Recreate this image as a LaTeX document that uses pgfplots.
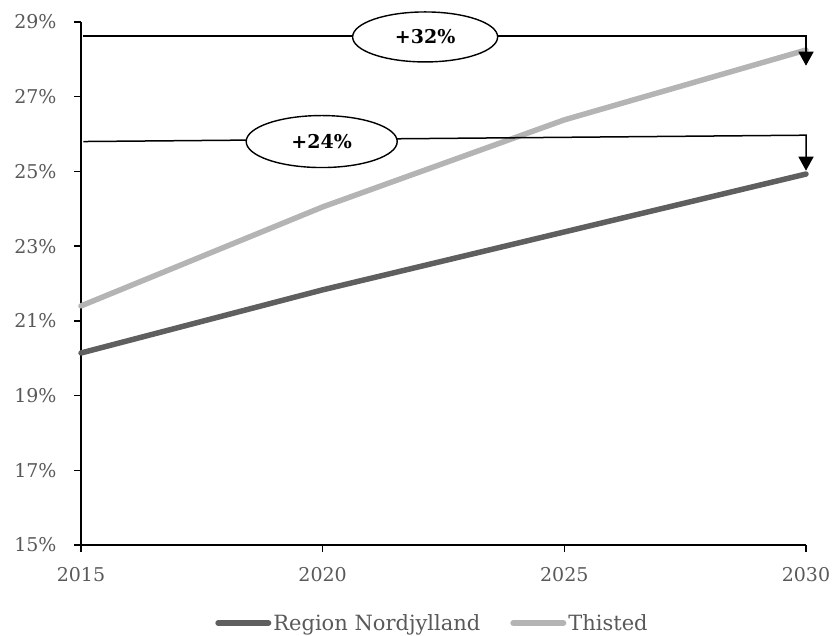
\documentclass[border=0pt]{standalone}
\usepackage{pgfplots}
\pgfplotsset{compat=1.18}
\usepackage{fontspec}
\setmainfont{DejaVu Serif}
\usetikzlibrary{shapes.geometric,arrows.meta}
\definecolor{darkline}{HTML}{5F5F5F}
\definecolor{lightline}{HTML}{B4B4B4}
\definecolor{ticktext}{HTML}{595959}
\begin{document}
\begin{tikzpicture}
\begin{axis}[
  at={(0,0)}, anchor=south west,
  scale only axis, width=725pt, height=523pt,
  xmin=2015, xmax=2030, ymin=15, ymax=29,
  axis x line*=bottom, axis y line*=left,
  axis line style={line width=1.3pt, -},
  xtick={2015,2020,2025,2030},
  xticklabels={2015,2020,2025,2030},
  ytick={15,17,19,21,23,25,27,29},
  yticklabels={15\%,17\%,19\%,21\%,23\%,25\%,27\%,29\%},
  tick align=outside, major tick length=7pt,
  tick style={line width=1.3pt, black},
  xticklabel style={font=\fontsize{19}{22}\selectfont, text=ticktext, yshift=-12pt},
  yticklabel style={font=\fontsize{19}{22}\selectfont, text=ticktext, xshift=-14pt},
  clip=false,
  legend columns=2,
  legend cell align=left,
  legend style={draw=none, fill=none, at={(351.5pt,-78pt)}, anchor=center,
    font=\fontsize{21}{24}\selectfont, text=ticktext,
    nodes={inner xsep=2pt},
    /tikz/every even column/.append style={column sep=28pt}},
  legend image code/.code={\draw[#1, line width=6pt, line cap=round] (3pt,0pt) -- (53pt,0pt);},
]
\addplot[darkline, line width=5.5pt, line cap=round] coordinates {(2015,20.14) (2020,21.83) (2025,23.38) (2030,24.93)};
\addlegendentry{Region Nordjylland}
\addplot[lightline, line width=5.5pt, line cap=round] coordinates {(2015,21.40) (2020,24.05) (2025,26.38) (2030,28.25)};
\addlegendentry{Thisted}

\draw[line width=1.5pt, -{Triangle[width=15pt,length=14pt]}] (axis cs:2015.05,28.62) -- (axis cs:2030,28.62) -- (axis cs:2030,27.83);
\draw[line width=1.5pt, -{Triangle[width=15pt,length=14pt]}] (axis cs:2015.05,25.80) -- (axis cs:2030,25.97) -- (axis cs:2030,25.02);
\node[ellipse, draw, line width=1.4pt, fill=white, minimum width=145pt, minimum height=50pt, inner sep=0pt, font=\fontsize{19}{22}\selectfont\bfseries] at (axis cs:2022.12,28.60) {+32\%};
\node[ellipse, draw, line width=1.4pt, fill=white, minimum width=151pt, minimum height=52pt, inner sep=0pt, font=\fontsize{19}{22}\selectfont\bfseries] at (axis cs:2019.98,25.80) {+24\%};
\end{axis}
\pgfresetboundingbox
\path[use as bounding box] (-81pt,-90pt) rectangle (754pt,545pt);
\end{tikzpicture}
\end{document}
